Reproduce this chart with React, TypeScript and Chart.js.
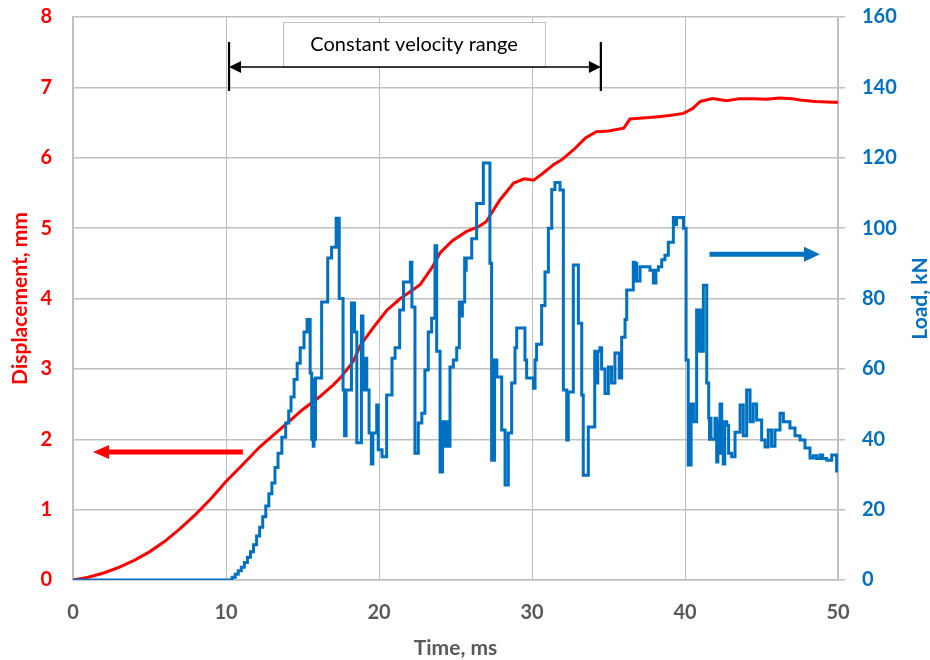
import React, { useEffect, useRef } from "react";
import { Chart, registerables } from "chart.js";

Chart.register(...registerables);

// Displacement (mm) vs time (ms)
const TIME_DISP = [0, 1, 2, 3, 4, 5, 6, 7, 8, 9, 10, 11, 12.2, 13, 14, 15, 16.1, 17, 17.5, 18.3, 18.8, 19.6, 20.5, 21.4, 22.2, 22.7, 23.5, 24, 24.8, 25.7, 26.5, 27, 27.9, 28.8, 29.5, 30.1, 30.6, 31.4, 32, 32.7, 33.5, 34.2, 35, 36, 36.4, 37, 38.1, 39, 39.9, 40.5, 41, 41.8, 42.7, 43.6, 44.5, 45.3, 46.2, 47, 47.5, 48.5, 49.7, 50];
const DISP = [0, 0.04, 0.1, 0.18, 0.28, 0.4, 0.55, 0.73, 0.93, 1.15, 1.4, 1.62, 1.89, 2.04, 2.23, 2.42, 2.6, 2.77, 2.88, 3.1, 3.34, 3.58, 3.83, 4.0, 4.12, 4.2, 4.45, 4.65, 4.82, 4.95, 5.02, 5.09, 5.4, 5.64, 5.7, 5.68, 5.76, 5.9, 5.98, 6.11, 6.28, 6.37, 6.38, 6.42, 6.55, 6.56, 6.58, 6.6, 6.63, 6.7, 6.8, 6.84, 6.81, 6.84, 6.84, 6.83, 6.85, 6.84, 6.82, 6.8, 6.79, 6.79];

// Load (kN) vs time (ms), step-wise
const TIME_LOAD = [0, 10.2, 10.4, 10.6, 10.8, 11.0, 11.2, 11.4, 11.6, 11.8, 12.0, 12.2, 12.4, 12.6, 12.8, 13.0, 13.2, 13.4, 13.65, 13.9, 14.1, 14.25, 14.45, 14.65, 14.85, 15.1, 15.3, 15.5, 15.6, 15.65, 15.7, 15.75, 15.8, 15.85, 16.25, 16.65, 16.9, 17.2, 17.4, 17.65, 17.75, 17.85, 18.2, 18.4, 18.55, 18.85, 18.95, 19.0, 19.05, 19.1, 19.15, 19.2, 19.35, 19.5, 19.6, 19.85, 19.95, 20.2, 20.5, 20.85, 21.05, 21.35, 21.6, 22.05, 22.15, 22.35, 22.57, 22.8, 23.0, 23.22, 23.44, 23.66, 23.77, 23.99, 24.15, 24.2, 24.25, 24.3, 24.35, 24.45, 24.64, 24.86, 25.08, 25.25, 25.3, 25.35, 25.4, 25.45, 25.6, 25.65, 25.7, 26.06, 26.38, 26.82, 27.25, 27.36, 27.55, 27.6, 27.65, 27.7, 28.02, 28.24, 28.45, 28.67, 28.89, 29.0, 29.54, 29.65, 30.09, 30.2, 30.3, 30.63, 30.85, 31.07, 31.29, 31.5, 31.83, 32.05, 32.27, 32.37, 32.7, 33.03, 33.25, 33.35, 33.68, 34.1, 34.15, 34.2, 34.25, 34.3, 34.44, 34.55, 34.77, 34.99, 35.2, 35.42, 35.7, 35.75, 35.8, 35.86, 36.08, 36.19, 36.62, 36.7, 36.75, 36.84, 37.06, 37.71, 37.93, 38.0, 38.04, 38.1, 38.26, 38.48, 38.69, 38.91, 39.24, 39.35, 39.45, 39.9, 40.07, 40.21, 40.4, 40.45, 40.5, 40.55, 40.76, 40.8, 40.85, 40.9, 40.95, 41.0, 41.2, 41.42, 41.55, 41.6, 41.65, 41.7, 41.96, 42.07, 42.15, 42.2, 42.29, 42.4, 42.5, 42.6, 42.72, 42.85, 43.05, 43.27, 43.6, 43.81, 44.03, 44.25, 44.46, 44.68, 45.01, 45.23, 45.44, 45.66, 45.88, 46.21, 46.43, 46.86, 47.19, 47.52, 47.84, 48.17, 48.39, 48.6, 48.82, 49.0, 49.26, 49.59, 49.91, 50];
const LOAD = [0, 0, 0.8, 1.6, 2.6, 3.6, 5, 6.5, 8, 10, 12.5, 15, 18, 21, 24.5, 27.6, 32, 36, 40.6, 44.6, 48, 52, 57, 61.6, 66, 70.5, 74, 58.8, 40, 57, 38, 57, 40, 57.4, 79, 91.5, 94.6, 102.8, 80, 54, 41, 54, 78.7, 70.5, 39, 75, 63, 54, 63, 54, 63, 54, 41.8, 33, 41.8, 49.7, 37, 35, 52.6, 63, 66, 76.7, 84.7, 90.3, 77.6, 36, 44.6, 47.4, 59.7, 70.5, 74.4, 95, 65, 30.7, 45, 38, 45, 38, 45, 38, 60.5, 62.5, 66, 79, 75, 79, 75, 79, 91.5, 88, 91.5, 97, 107, 118.5, 90, 34, 62.5, 57.7, 62.5, 57.7, 42.6, 27, 41.8, 56, 66, 71.6, 62.5, 57.4, 54.5, 62.5, 67, 78, 87.5, 100, 111, 113, 110.8, 54, 39.8, 53.4, 89.5, 73, 52.6, 29.8, 43.5, 65, 56, 65, 56, 65, 66, 60, 53, 60.5, 56, 64.5, 57.4, 64.5, 57.4, 69, 74, 82.4, 90.3, 85, 90, 85, 89, 88, 84.4, 88, 84.4, 88, 89, 91, 92.3, 96, 103, 101, 103, 100, 62.5, 32.7, 50, 45, 50, 45, 76.7, 65, 76.7, 65, 76.7, 65, 83.8, 56, 46, 40, 46, 40, 46, 33.5, 45, 36, 50, 36, 33, 45, 44, 36, 35, 42, 49.7, 41, 54, 45, 50, 45.5, 39.8, 37.8, 42.6, 38, 42.6, 47.4, 45, 43.2, 41, 39.8, 37.5, 34.7, 35.3, 34.5, 35.5, 34.5, 34, 35.5, 31, 31];

const X_MIN = 0, X_MAX = 50, X_STEP = 10;
const Y_MIN = 0, Y_MAX = 8, Y_STEP = 1;
const Y1_MIN = 0, Y1_MAX = 160, Y1_STEP = 20;

const ANNOT_TEXT = "Constant velocity range";
const VEL_START = 10.2, VEL_END = 34.5, VEL_Y = 7.29;
const BOX_T0 = 13.73, BOX_T1 = 30.85, BOX_TOP = 7.93;
const RED_ARROW = { from: 11.1, to: 1.31, y: 1.82 };
const BLUE_ARROW = { from: 41.6, to: 48.82, y: 92.6 };

const RED = "#ff0000";
const BLUE = "#0070c0";
const GRAY_TXT = "#595959";
const GRID = "#bfbfbf";
const FONT = "Lato, 'Open Sans', sans-serif";

function arrow(ctx: CanvasRenderingContext2D, x1: number, x2: number, y: number, w: number, hl: number, hh: number, color: string) {
  const dir = Math.sign(x2 - x1);
  ctx.save();
  ctx.strokeStyle = color;
  ctx.fillStyle = color;
  ctx.lineWidth = w;
  ctx.beginPath();
  ctx.moveTo(x1, y);
  ctx.lineTo(x2 - dir * hl * 0.9, y);
  ctx.stroke();
  ctx.beginPath();
  ctx.moveTo(x2, y);
  ctx.lineTo(x2 - dir * hl, y - hh);
  ctx.lineTo(x2 - dir * hl, y + hh);
  ctx.closePath();
  ctx.fill();
  ctx.restore();
}

const overlay = {
  id: "overlay",
  afterDraw(chart: any) {
    const ctx: CanvasRenderingContext2D = chart.ctx;
    const xs = chart.scales.x, ys = chart.scales.y, y1 = chart.scales.y1;
    const ca = chart.chartArea;

    // Annotation box
    const bx0 = xs.getPixelForValue(BOX_T0), bx1 = xs.getPixelForValue(BOX_T1);
    const by0 = ys.getPixelForValue(BOX_TOP), by1 = ys.getPixelForValue(VEL_Y);
    ctx.save();
    ctx.fillStyle = "#ffffff";
    ctx.fillRect(bx0, by0, bx1 - bx0, by1 - by0);
    ctx.strokeStyle = GRID;
    ctx.lineWidth = 1;
    ctx.strokeRect(Math.round(bx0) + 0.5, Math.round(by0) + 0.5, bx1 - bx0, by1 - by0);
    ctx.fillStyle = "#000000";
    ctx.font = `20px ${FONT}`;
    ctx.textAlign = "center";
    ctx.textBaseline = "middle";
    ctx.fillText(ANNOT_TEXT, (bx0 + bx1) / 2, (by0 + by1) / 2);
    ctx.restore();

    // Double arrow with end bars
    const ax0 = xs.getPixelForValue(VEL_START), ax1 = xs.getPixelForValue(VEL_END);
    const ay = ys.getPixelForValue(VEL_Y);
    ctx.save();
    ctx.strokeStyle = "#000";
    ctx.fillStyle = "#000";
    ctx.lineWidth = 1.4;
    ctx.beginPath();
    ctx.moveTo(ax0 + 10, ay);
    ctx.lineTo(ax1 - 10, ay);
    ctx.stroke();
    for (const [tip, d] of [[ax0, 1], [ax1, -1]] as [number, number][]) {
      ctx.beginPath();
      ctx.moveTo(tip, ay);
      ctx.lineTo(tip + d * 12, ay - 6);
      ctx.lineTo(tip + d * 12, ay + 6);
      ctx.closePath();
      ctx.fill();
    }
    ctx.lineWidth = 2.2;
    ctx.beginPath();
    ctx.moveTo(ax0, ay - 25);
    ctx.lineTo(ax0, ay + 24);
    ctx.moveTo(ax1, ay - 25);
    ctx.lineTo(ax1, ay + 24);
    ctx.stroke();
    ctx.restore();

    // Series arrows
    arrow(ctx, xs.getPixelForValue(RED_ARROW.from), xs.getPixelForValue(RED_ARROW.to), ys.getPixelForValue(RED_ARROW.y), 5, 16, 7, RED);
    arrow(ctx, xs.getPixelForValue(BLUE_ARROW.from), xs.getPixelForValue(BLUE_ARROW.to), y1.getPixelForValue(BLUE_ARROW.y), 5, 16, 7.5, BLUE);

    // Axis titles
    const cy = (ca.top + ca.bottom) / 2;
    ctx.save();
    ctx.font = `bold 21px ${FONT}`;
    ctx.textAlign = "center";
    ctx.textBaseline = "middle";
    ctx.fillStyle = RED;
    ctx.translate(20, cy);
    ctx.rotate(-Math.PI / 2);
    ctx.fillText("Displacement, mm", 0, 0);
    ctx.restore();

    ctx.save();
    ctx.font = `bold 21px ${FONT}`;
    ctx.textAlign = "center";
    ctx.textBaseline = "middle";
    ctx.fillStyle = BLUE;
    ctx.translate(chart.width - 10, cy);
    ctx.rotate(-Math.PI / 2);
    ctx.fillText("Load, kN", 0, 0);
    ctx.restore();

    ctx.save();
    ctx.font = `bold 21px ${FONT}`;
    ctx.textAlign = "center";
    ctx.textBaseline = "middle";
    ctx.fillStyle = GRAY_TXT;
    ctx.fillText("Time, ms", (ca.left + ca.right) / 2, ca.bottom + 68);
    ctx.restore();
  },
};

export default function App() {
  const ref = useRef<HTMLCanvasElement | null>(null);
  useEffect(() => {
    if (!ref.current) return;
    const dispData = TIME_DISP.map((t, i) => ({ x: t, y: DISP[i] }));
    const loadData = TIME_LOAD.map((t, i) => ({ x: t, y: LOAD[i] }));
    const tickFont = { family: FONT, size: 20, weight: "bold" as const };
    const chart = new Chart(ref.current, {
      type: "line",
      data: {
        datasets: [
          {
            label: "Load",
            data: loadData,
            yAxisID: "y1",
            borderColor: BLUE,
            borderWidth: 3,
            pointRadius: 0,
            stepped: true,
            fill: false,
            order: 1,
          },
          {
            label: "Displacement",
            data: dispData,
            yAxisID: "y",
            borderColor: RED,
            borderWidth: 3,
            pointRadius: 0,
            tension: 0,
            fill: false,
            order: 2,
          },
        ],
      },
      options: {
        animation: false,
        responsive: false,
        devicePixelRatio: 1,
        parsing: false,
        layout: { padding: { top: 17, left: 0, right: 0, bottom: 0 } },
        plugins: { legend: { display: false }, tooltip: { enabled: false } },
        scales: {
          x: {
            type: "linear",
            min: X_MIN,
            max: X_MAX,
            ticks: { stepSize: X_STEP, color: GRAY_TXT, font: tickFont, padding: 21, maxRotation: 0 },
            grid: { color: GRID, lineWidth: 1, drawTicks: false },
            border: { display: true, color: GRID, width: 1.5 },
            afterFit: (s: any) => { s.height = 80; s.paddingLeft = 0; s.paddingRight = 0; },
          },
          y: {
            type: "linear",
            position: "left",
            min: Y_MIN,
            max: Y_MAX,
            ticks: { stepSize: Y_STEP, color: RED, font: tickFont, padding: 21 },
            grid: { color: GRID, lineWidth: 1.5, drawTicks: false },
            border: { display: true, color: GRID, width: 1.5 },
            afterFit: (s: any) => { s.width = 73; s.paddingTop = 0; s.paddingBottom = 0; },
          },
          y1: {
            type: "linear",
            position: "right",
            min: Y1_MIN,
            max: Y1_MAX,
            ticks: { stepSize: Y1_STEP, color: BLUE, font: tickFont, padding: 17 },
            grid: { drawOnChartArea: false, color: GRID, lineWidth: 1.5, drawTicks: true, tickLength: 7 },
            border: { display: true, color: GRID, width: 1.5 },
            afterFit: (s: any) => { s.width = 92; s.paddingTop = 0; s.paddingBottom = 0; },
          },
        },
      },
      plugins: [overlay],
    });
    return () => chart.destroy();
  }, []);
  return (
    <div style={{ position: "absolute", left: 0, top: 0, width: 930, height: 660, background: "#fff" }}>
      <canvas ref={ref} width={930} height={660} />
    </div>
  );
}
